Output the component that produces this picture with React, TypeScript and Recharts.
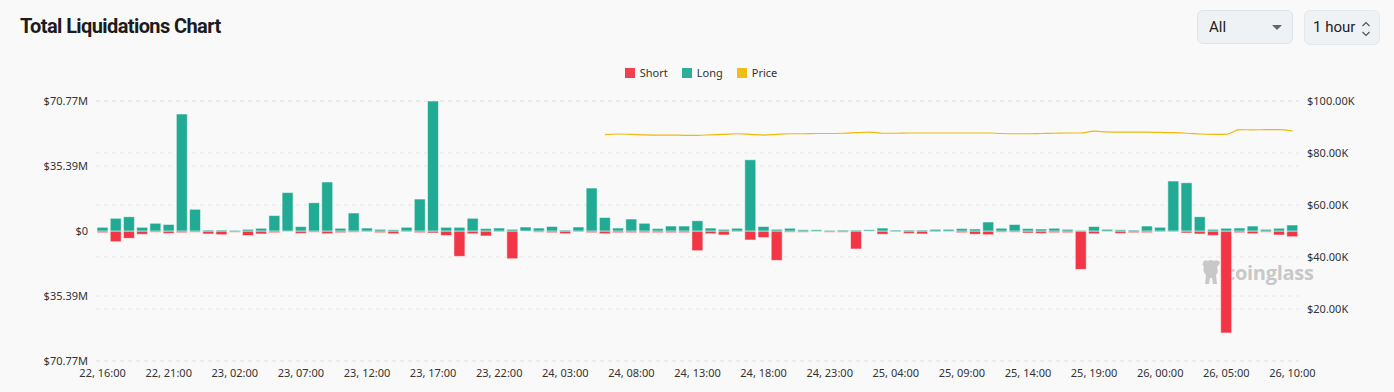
import * as React from "react";
import {
  ComposedChart,
  Bar,
  Line,
  XAxis,
  YAxis,
  CartesianGrid,
} from "recharts";

// hourly buckets, 22 16:00 -> 26 10:00
const startDay = 22;
const startHour = 16;

// liquidations in $M (long up, short down)
const longValues = [
  2.0, 6.9, 7.8, 2.0, 4.2, 3.6, 63.7, 11.8, 0.5, 0.5,
  0.4, 0.9, 1.5, 8.4, 20.9, 2.4, 15.4, 26.7, 1.5, 9.8,
  1.6, 0.9, 0.7, 2.0, 17.4, 70.77, 2.0, 2.0, 6.9, 1.3,
  1.6, 0.9, 2.2, 1.6, 2.5, 0.5, 2.2, 23.4, 7.4, 1.6,
  6.5, 4.2, 1.3, 2.7, 2.7, 5.6, 1.6, 0.9, 1.5, 38.8,
  2.5, 0.9, 1.5, 0.7, 0.7, 0.4, 0.5, 0.5, 0.7, 1.6,
  0.5, 0.5, 0.5, 0.9, 0.9, 1.3, 1.1, 4.9, 1.5, 3.6,
  1.3, 1.1, 1.5, 0.9, 0.4, 2.5, 0.9, 0.7, 0.5, 2.7,
  2.0, 27.2, 26.3, 7.8, 0.9, 1.5, 1.6, 2.7, 0.9, 1.5,
  3.3,
];

const shortValues = [
  0.9, 5.8, 4.0, 1.8, 0.7, 1.3, 0.9, 0.7, 1.6, 2.0,
  0.7, 2.5, 1.6, 0.9, 0.4, 1.3, 0.7, 1.5, 0.9, 0.7,
  0.5, 0.9, 1.5, 0.5, 0.9, 1.1, 2.5, 13.8, 1.5, 2.7,
  0.5, 15.1, 0.2, 0.7, 0.9, 1.5, 0.5, 0.9, 1.5, 0.9,
  0.9, 0.9, 0.9, 0.9, 0.9, 10.7, 1.5, 2.2, 0.5, 4.9,
  3.6, 16.0, 0.7, 0.7, 0.4, 0.7, 0.7, 9.8, 0.2, 1.8,
  0.5, 1.3, 1.6, 0.5, 0.4, 0.9, 1.8, 2.0, 0.7, 0.7,
  1.1, 1.3, 0.9, 0.9, 20.9, 1.5, 0.4, 1.3, 0.9, 0.9,
  0.5, 0.5, 1.1, 1.6, 2.4, 55.5, 0.9, 1.5, 0.7, 2.2,
  3.1,
];

// BTC price in $K, only from 24 06:00 onwards
const priceStart = 38;
const priceValues = [
  87.1, 87.3, 87.2, 87.0, 86.9, 86.9, 86.8, 86.8, 87.0, 87.2,
  87.4, 87.2, 86.9, 87.2, 87.4, 87.4, 87.5, 87.5, 87.6, 87.8,
  88.0, 87.6, 87.6, 87.7, 87.7, 87.7, 87.7, 87.7, 87.7, 87.7,
  87.5, 87.4, 87.4, 87.5, 87.6, 87.7, 87.7, 88.4, 88.1, 88.0,
  88.0, 88.0, 87.9, 87.8, 87.6, 87.3, 87.2, 87.2, 89.0, 88.9,
  89.0, 89.0, 88.5,
];

const leftTicks = [-70770000, -35390000, 0, 35390000, 70770000];
const rightTicks = [20000, 40000, 60000, 80000, 100000];

const legendItems = [
  { name: "Short", color: "#f23645" },
  { name: "Long", color: "#22ab94" },
  { name: "Price", color: "#f0b90b" },
];

const pad = (n: number) => (n < 10 ? "0" + n : "" + n);

const data = longValues.map((l, i) => {
  const total = startHour + i;
  const day = startDay + Math.floor(total / 24);
  const hour = total % 24;
  const p = i - priceStart;
  return {
    time: `${day}, ${pad(hour)}:00`,
    long: l * 1e6,
    short: -shortValues[i] * 1e6,
    price: p >= 0 ? priceValues[p] * 1000 : null,
  };
});

const fmtLeft = (v: number) =>
  v === 0 ? "$0" : `$${(Math.abs(v) / 1e6).toFixed(2)}M`;
const fmtRight = (v: number) => `$${(v / 1000).toFixed(2)}K`;

const font = "'Noto Sans', sans-serif";
const tickStyle = { fontSize: 11, fill: "#333", fontFamily: font };

const App = () => {
  return (
    <div
      style={{
        position: "absolute",
        left: 0,
        top: 0,
        width: 1394,
        height: 392,
        background: "#f9f9f9",
        overflow: "hidden",
        fontFamily: font,
      }}
    >
      <div
        style={{
          position: "absolute",
          left: 20,
          top: 14,
          fontFamily: "Roboto, sans-serif",
          fontWeight: 700,
          fontSize: 20,
          letterSpacing: -0.6,
          color: "#1c1c1e",
        }}
      >
        Total Liquidations Chart
      </div>

      {/* selectors */}
      <div
        style={{
          position: "absolute",
          left: 1197,
          top: 10,
          width: 96,
          height: 34,
          background: "#eef2f5",
          border: "1px solid #dbe4ec",
          borderRadius: 6,
          boxSizing: "border-box",
          fontFamily: "Roboto, sans-serif",
          fontSize: 15,
          color: "#222",
        }}
      >
        <span style={{ position: "absolute", left: 11, top: 7 }}>All</span>
        <svg style={{ position: "absolute", left: 74, top: 14 }} width="10" height="6">
          <path d="M0 0 L10 0 L5 5 Z" fill="#666" />
        </svg>
      </div>
      <div
        style={{
          position: "absolute",
          left: 1304,
          top: 10,
          width: 76,
          height: 35,
          background: "#eef2f5",
          border: "1px solid #e2e8ee",
          borderRadius: 6,
          boxSizing: "border-box",
          fontFamily: "Roboto, sans-serif",
          fontSize: 15,
          color: "#222",
        }}
      >
        <span style={{ position: "absolute", left: 8, top: 7 }}>1 hour</span>
        <svg style={{ position: "absolute", left: 56, top: 10 }} width="10" height="16">
          <path d="M1.5 5 L5 1.5 L8.5 5 M1.5 11 L5 14.5 L8.5 11" stroke="#555" strokeWidth="1.2" fill="none" />
        </svg>
      </div>

      {/* legend */}
      <div
        style={{
          position: "absolute",
          left: 0,
          width: 1394,
          top: 65,
          display: "flex",
          justifyContent: "center",
          paddingLeft: 8,
          boxSizing: "border-box",
          fontSize: 11,
          color: "#333",
        }}
      >
        {legendItems.map((it) => (
          <div key={it.name} style={{ display: "flex", alignItems: "center", margin: "0 7px" }}>
            <div style={{ width: 10, height: 10, background: it.color, marginRight: 5, opacity: 0.95 }} />
            <span>{it.name}</span>
          </div>
        ))}
      </div>

      {/* watermark */}
      <div
        style={{
          position: "absolute",
          left: 1200,
          top: 258,
          display: "flex",
          alignItems: "center",
          color: "#c8c8c8",
          fontSize: 20,
          fontWeight: 700,
          fontFamily: "'Open Sans', sans-serif",
        }}
      >
        <svg width="22" height="28" style={{ marginRight: 3 }}>
          <path
            d="M3 4 Q5 1 8 3 Q11 1 14 3 Q17 1 20 4 Q19 8 17 9 Q19 14 16 17 L17 26 L13 26 L12 20 L10 20 L9 26 L5 26 L6 17 Q2 13 4 9 Q2 7 3 4 Z"
            fill="#c8c8c8"
          />
        </svg>
        <span style={{ letterSpacing: -0.3 }}>coinglass</span>
      </div>

      <div style={{ position: "absolute", left: 0, top: 0 }}>
        <ComposedChart
          width={1394}
          height={392}
          data={data}
          stackOffset="sign"
          barCategoryGap={1}
          margin={{ top: 101, right: 0, bottom: 6, left: 0 }}
        >
          <CartesianGrid
            yAxisId="left"
            vertical={false}
            stroke="#e6e6e6"
            strokeDasharray="4 4"
          />
          <CartesianGrid
            yAxisId="right"
            vertical={false}
            stroke="#e6e6e6"
            strokeDasharray="4 4"
          />
          <XAxis
            dataKey="time"
            interval={4}
            tickLine={false}
            axisLine={false}
            tick={tickStyle}
            height={25}
          />
          <YAxis
            yAxisId="left"
            orientation="left"
            width={96}
            domain={[-70770000, 70770000]}
            ticks={leftTicks}
            tickFormatter={fmtLeft}
            tickLine={false}
            axisLine={false}
            tick={tickStyle}
            allowDataOverflow
          />
          <YAxis
            yAxisId="right"
            orientation="right"
            width={95}
            domain={[0, 100000]}
            ticks={rightTicks}
            tickFormatter={fmtRight}
            tickLine={false}
            axisLine={false}
            tick={{ ...tickStyle, textAnchor: "start" }}
          />
          <Bar
            yAxisId="left"
            dataKey="short"
            stackId="liq"
            fill="#f23645"
            stroke="rgba(255,255,255,0.55)"
            strokeWidth={1}
            isAnimationActive={false}
          />
          <Bar
            yAxisId="left"
            dataKey="long"
            stackId="liq"
            fill="#22ab94"
            stroke="rgba(255,255,255,0.55)"
            strokeWidth={1}
            isAnimationActive={false}
          />
          <Line
            yAxisId="right"
            dataKey="price"
            type="monotone"
            stroke="#f0b90b"
            strokeWidth={1.2}
            dot={false}
            activeDot={false}
            connectNulls={false}
            isAnimationActive={false}
          />
        </ComposedChart>
      </div>
    </div>
  );
};

export default App;
